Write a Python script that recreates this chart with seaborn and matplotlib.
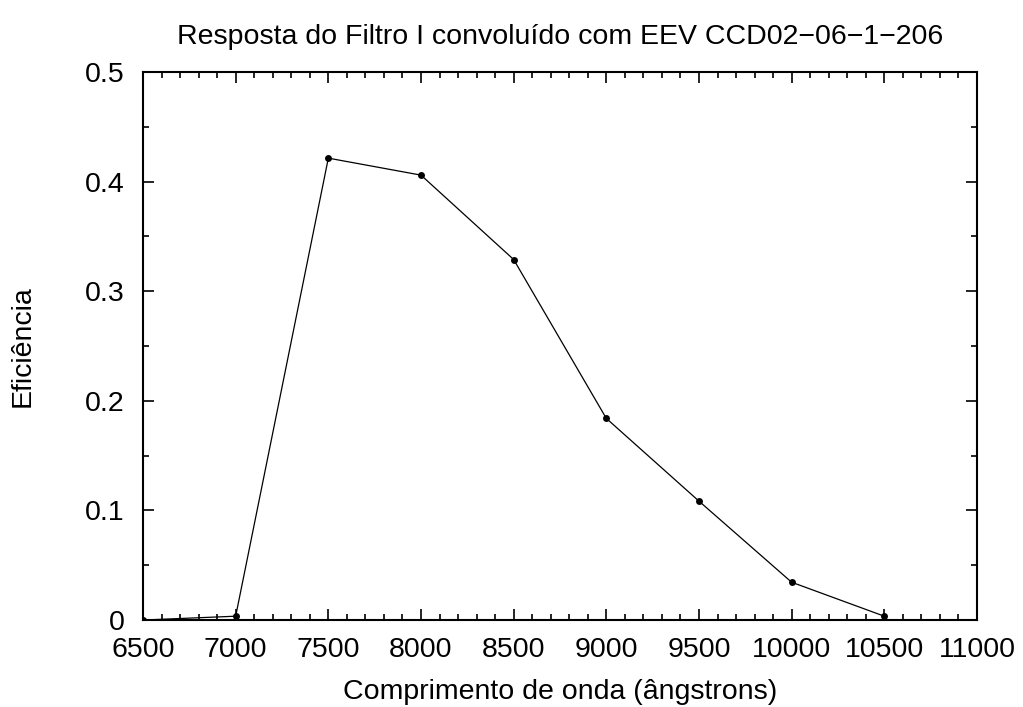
import numpy as np
import pandas as pd
import matplotlib
matplotlib.use("Agg")
import matplotlib.pyplot as plt
import seaborn as sns
from matplotlib.ticker import MultipleLocator

# data
wavelength = [6500, 7000, 7500, 8000, 8500, 9000, 9500, 10000, 10500]
efficiency = [0.0, 0.0035, 0.4215, 0.406, 0.329, 0.184, 0.1085, 0.0345, 0.0035]

df = pd.DataFrame({"wl": wavelength, "eff": efficiency})

sns.set_style("ticks")
plt.rcParams['font.family'] = ['Liberation Sans', 'DejaVu Sans']
plt.rcParams['text.color'] = 'black'
plt.rcParams['axes.labelcolor'] = 'black'

fig = plt.figure(figsize=(10.23, 7.07), dpi=100)
ax = fig.add_axes([0.1398, 0.123, 0.8152, 0.775])

sns.lineplot(data=df, x="wl", y="eff", color="black", linewidth=0.9,
             marker="o", markersize=5, markeredgewidth=0, ax=ax)

ax.set_xlim(6500, 11000)
ax.set_ylim(0, 0.5)
ax.xaxis.set_major_locator(MultipleLocator(500))
ax.xaxis.set_minor_locator(MultipleLocator(100))
ax.yaxis.set_minor_locator(MultipleLocator(0.05))
ax.set_yticks([0, 0.1, 0.2, 0.3, 0.4, 0.5])
ax.set_yticklabels(["0", "0.1", "0.2", "0.3", "0.4", "0.5"])

ax.tick_params(which="both", direction="in", top=True, right=True,
               labelsize=20.5, width=1.2, colors="black", labelcolor="black")
ax.tick_params(which="major", length=8)
ax.tick_params(which="minor", length=4)
ax.tick_params(axis="x", which="major", pad=12.5)
ax.tick_params(axis="y", which="major", pad=13)
for s in ax.spines.values():
    s.set_linewidth(1.5)
    s.set_color("black")

ax.set_title("Resposta do Filtro I convoluído com EEV CCD02\u221206\u22121\u2212206",
             fontsize=20.5, pad=20, color="black")
ax.set_xlabel("Comprimento de onda (ângstrons)", fontsize=20.5, labelpad=11)
ax.set_ylabel("Eficiência", fontsize=20.5, labelpad=36)

fig.savefig("out.png", dpi=100)
